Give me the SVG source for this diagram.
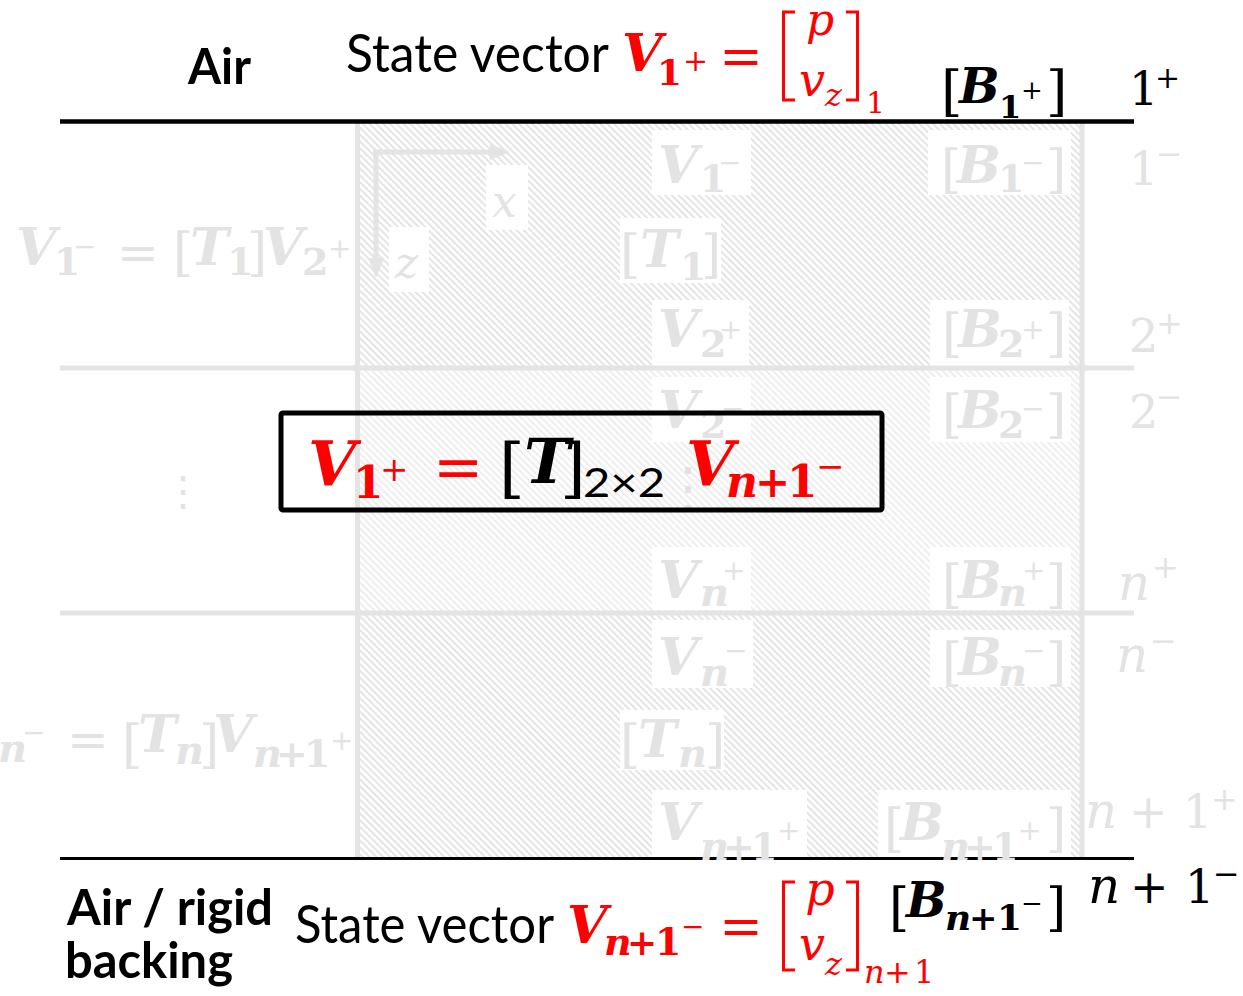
<svg xmlns="http://www.w3.org/2000/svg" width="1243" height="996" viewBox="0 0 1243 996">
<defs>
<pattern id="hatch" width="4.8" height="4.8" patternUnits="userSpaceOnUse" patternTransform="rotate(-45)">
<line x1="1" y1="0" x2="1" y2="4.8" stroke="#e4e4e4" stroke-width="2"/>
</pattern>
<marker id="ah" viewBox="0 0 10 8" refX="0" refY="4" markerWidth="4" markerHeight="3.2" orient="auto">
<path d="M0,0 L10,4 L0,8 z" fill="#e4e4e4"/>
</marker>
<style>
.m{font-family:"DejaVu Serif","Liberation Serif",serif}
.s{font-family:Lato,"Open Sans",sans-serif}
.g{fill:#e3e3e3}
.r{fill:#ff0000}
.k{fill:#000000}
.bi{font-style:italic;font-weight:bold}
.it{font-style:italic}
.bd{font-weight:bold}
.box{fill:#ffffff}
.gl{stroke:#e4e4e4;stroke-width:5;fill:none}
.br{fill:none;stroke:#ff0000;stroke-width:3}
</style>
</defs>
<rect width="1243" height="996" fill="#ffffff"/>

<g id="layers">
<rect x="360" y="123" width="720" height="243" fill="url(#hatch)"/>
<rect x="360" y="370" width="720" height="241" fill="url(#hatch)" opacity="0.65"/>
<rect x="360" y="615" width="720" height="242" fill="url(#hatch)"/>
</g>

<g id="label-boxes">
<rect class="box" x="652" y="130" width="99" height="65"/>
<rect class="box" x="928" y="130" width="143" height="65"/>
<rect class="box" x="620" y="218" width="101" height="65"/>
<rect class="box" x="652" y="300" width="97" height="66"/>
<rect class="box" x="930" y="300" width="139" height="66"/>
<rect class="box" x="486" y="165" width="42" height="65"/>
<rect class="box" x="389" y="227" width="40" height="65"/>
<rect class="box" x="652" y="377" width="99" height="65"/>
<rect class="box" x="930" y="377" width="141" height="65"/>
<rect class="box" x="652" y="547" width="99" height="63"/>
<rect class="box" x="930" y="547" width="141" height="63"/>
<rect class="box" x="652" y="620" width="101" height="68"/>
<rect class="box" x="930" y="630" width="141" height="57"/>
<rect class="box" x="620" y="710" width="104" height="60"/>
<rect class="box" x="652" y="790" width="155" height="67"/>
<rect class="box" x="878" y="790" width="193" height="67"/>
</g>

<g id="grid-lines">
<line class="gl" x1="60" y1="368" x2="1134" y2="368"/>
<line class="gl" x1="60" y1="613" x2="1134" y2="613"/>
<line class="gl" x1="357.5" y1="122" x2="357.5" y2="857"/>
<line class="gl" x1="1082" y1="122" x2="1082" y2="857"/>
<line x1="60" y1="121.5" x2="1134" y2="121.5" stroke="#000" stroke-width="4.5"/>
<line x1="60" y1="858.5" x2="1134" y2="858.5" stroke="#000" stroke-width="3"/>
</g>

<g id="axes">
<line class="gl" x1="376" y1="149.5" x2="376" y2="258" marker-end="url(#ah)"/>
<line class="gl" x1="373.5" y1="152" x2="490" y2="152" marker-end="url(#ah)"/>
<text class="m it g" x="492" y="217" font-size="44">x</text>
<text class="m it g" x="395" y="278" font-size="44">z</text>
</g>

<g id="top-labels">
<text class="s bd k" x="188" y="84" font-size="50" textLength="63" lengthAdjust="spacingAndGlyphs">Air</text>
<text class="s k" x="346" y="72" font-size="52" textLength="263" lengthAdjust="spacingAndGlyphs">State vector</text>
<text class="m r"><tspan class="bi" x="622" y="71" font-size="52">V</tspan><tspan class="bd" x="657" y="85" font-size="36">1</tspan><tspan x="683" y="71" font-size="30">+</tspan></text>
<text class="m r" x="741" y="74" font-size="52" text-anchor="middle">=</text>
<path class="br" d="M795,12 H783.5 V100 H795"/>
<path class="br" d="M846,12 H857.5 V100 H846"/>
<text class="m it r" x="820" y="35" font-size="44" text-anchor="middle">p</text>
<text class="m it r"><tspan x="799" y="96" font-size="46">v</tspan><tspan x="825" y="106" font-size="32">z</tspan></text>
<text class="m r" x="866" y="113" font-size="30">1</text>
<text class="m k"><tspan x="941" y="110" font-size="55">[</tspan><tspan class="bi" x="959" y="103" font-size="48">B</tspan><tspan class="bd" x="999" y="118" font-size="32">1</tspan><tspan x="1021" y="99" font-size="26">+</tspan><tspan x="1046" y="110" font-size="55">]</tspan></text>
<text class="m k"><tspan x="1129" y="105" font-size="46">1</tspan><tspan x="1155" y="88" font-size="30">+</tspan></text>
</g>

<g id="layer1-labels" class="m g">
<text><tspan class="bi" x="16" y="265" font-size="52">V</tspan><tspan class="bd" x="54" y="275" font-size="38">1</tspan><tspan x="73" y="256" font-size="28">−</tspan><tspan x="117" y="270" font-size="50">=</tspan><tspan x="173" y="270" font-size="52">[</tspan><tspan class="bi" x="190" y="265" font-size="52">T</tspan><tspan class="bd" x="227" y="275" font-size="38">1</tspan><tspan x="247" y="270" font-size="52">]</tspan><tspan class="bi" x="263" y="265" font-size="52">V</tspan><tspan class="bd" x="302" y="275" font-size="38">2</tspan><tspan x="328" y="258" font-size="28">+</tspan></text>
<text><tspan class="bi" x="658" y="183" font-size="52">V</tspan><tspan class="bd" x="700" y="192" font-size="38">1</tspan><tspan x="718" y="172" font-size="28">−</tspan></text>
<text><tspan x="941" y="187" font-size="52">[</tspan><tspan class="bi" x="957" y="183" font-size="52">B</tspan><tspan class="bd" x="998" y="192" font-size="38">1</tspan><tspan x="1021" y="172" font-size="28">−</tspan><tspan x="1046" y="187" font-size="52">]</tspan></text>
<text><tspan x="1129" y="185" font-size="46">1</tspan><tspan x="1156" y="165" font-size="32">−</tspan></text>
<text><tspan x="620" y="272" font-size="52">[</tspan><tspan class="bi" x="640" y="267" font-size="52">T</tspan><tspan class="bd" x="680" y="280" font-size="38">1</tspan><tspan x="701" y="272" font-size="52">]</tspan></text>
<text><tspan class="bi" x="658" y="347" font-size="52">V</tspan><tspan class="bd" x="700" y="357" font-size="38">2</tspan><tspan x="719" y="339" font-size="28">+</tspan></text>
<text><tspan x="942" y="351" font-size="52">[</tspan><tspan class="bi" x="958" y="347" font-size="52">B</tspan><tspan class="bd" x="998" y="357" font-size="38">2</tspan><tspan x="1021" y="339" font-size="28">+</tspan><tspan x="1046" y="351" font-size="52">]</tspan></text>
<text><tspan x="1129" y="352" font-size="46">2</tspan><tspan x="1156" y="334" font-size="32">+</tspan></text>
</g>

<g id="layer2-labels" class="m g">
<text><tspan class="bi" x="658" y="428" font-size="52">V</tspan><tspan class="bd" x="700" y="438" font-size="38">2</tspan><tspan x="721" y="418" font-size="28">−</tspan></text>
<text><tspan x="942" y="432" font-size="52">[</tspan><tspan class="bi" x="958" y="428" font-size="52">B</tspan><tspan class="bd" x="998" y="438" font-size="38">2</tspan><tspan x="1021" y="418" font-size="28">−</tspan><tspan x="1046" y="432" font-size="52">]</tspan></text>
<text><tspan x="1129" y="428" font-size="46">2</tspan><tspan x="1156" y="408" font-size="32">−</tspan></text>
<text x="183" y="505" font-size="40" text-anchor="middle" font-family="DejaVu Sans">⋮</text>
<text x="688" y="507" font-size="56" text-anchor="middle" font-family="DejaVu Sans">⋮</text>
<text><tspan class="bi" x="658" y="598" font-size="52">V</tspan><tspan class="bi" x="700" y="606" font-size="40">n</tspan><tspan x="722" y="580" font-size="28">+</tspan></text>
<text><tspan x="942" y="602" font-size="52">[</tspan><tspan class="bi" x="958" y="598" font-size="52">B</tspan><tspan class="bi" x="998" y="606" font-size="40">n</tspan><tspan x="1022" y="580" font-size="28">+</tspan><tspan x="1046" y="602" font-size="52">]</tspan></text>
<text><tspan class="it" x="1118" y="600" font-size="50">n</tspan><tspan x="1152" y="578" font-size="32">+</tspan></text>
</g>

<g id="layer3-labels" class="m g">
<text><tspan class="bi" x="-2" y="762" font-size="40">n</tspan><tspan x="22" y="742" font-size="28">−</tspan><tspan x="67" y="757" font-size="50">=</tspan><tspan x="122" y="762" font-size="52">[</tspan><tspan class="bi" x="138" y="752" font-size="52">T</tspan><tspan class="bi" x="175" y="764" font-size="40">n</tspan><tspan x="199" y="762" font-size="52">]</tspan><tspan class="bi" x="213" y="752" font-size="52">V</tspan><tspan class="bi" x="253" y="767" font-size="40">n</tspan><tspan class="bd" x="276" y="767" font-size="38">+</tspan><tspan class="bd" x="304" y="767" font-size="38">1</tspan><tspan x="330" y="750" font-size="28">+</tspan></text>
<text><tspan class="bi" x="658" y="675" font-size="52">V</tspan><tspan class="bi" x="700" y="686" font-size="40">n</tspan><tspan x="724" y="660" font-size="28">−</tspan></text>
<text><tspan x="942" y="680" font-size="52">[</tspan><tspan class="bi" x="958" y="675" font-size="52">B</tspan><tspan class="bi" x="998" y="686" font-size="40">n</tspan><tspan x="1022" y="660" font-size="28">−</tspan><tspan x="1046" y="680" font-size="52">]</tspan></text>
<text><tspan class="it" x="1116" y="672" font-size="50">n</tspan><tspan x="1150" y="652" font-size="32">−</tspan></text>
<text><tspan x="620" y="762" font-size="52">[</tspan><tspan class="bi" x="638" y="757" font-size="52">T</tspan><tspan class="bi" x="678" y="767" font-size="40">n</tspan><tspan x="705" y="762" font-size="52">]</tspan></text>
<text><tspan class="bi" x="658" y="840" font-size="52">V</tspan><tspan class="bi" x="700" y="860" font-size="40">n</tspan><tspan class="bd" x="723" y="860" font-size="38">+</tspan><tspan class="bd" x="751" y="860" font-size="38">1</tspan><tspan x="777" y="840" font-size="28">+</tspan></text>
<text><tspan x="884" y="846" font-size="52">[</tspan><tspan class="bi" x="900" y="840" font-size="52">B</tspan><tspan class="bi" x="941" y="860" font-size="40">n</tspan><tspan class="bd" x="964" y="860" font-size="38">+</tspan><tspan class="bd" x="992" y="860" font-size="38">1</tspan><tspan x="1018" y="840" font-size="28">+</tspan><tspan x="1046" y="846" font-size="52">]</tspan></text>
<text><tspan class="it" x="1085" y="828" font-size="50">n</tspan><tspan x="1129" y="828" font-size="46">+</tspan><tspan x="1183" y="828" font-size="46">1</tspan><tspan x="1211" y="810" font-size="32">+</tspan></text>
</g>

<g id="formula">
<rect x="281" y="413" width="601" height="97" rx="2" fill="none" stroke="#000" stroke-width="5"/>
<text class="m"><tspan class="bi r" x="308" y="485" font-size="62">V</tspan><tspan class="bd r" x="353" y="498" font-size="44">1</tspan><tspan class="r" x="380" y="481" font-size="34">+</tspan><tspan class="r" x="433" y="487" font-size="60">=</tspan><tspan class="k" x="499" y="490" font-size="66">[</tspan><tspan class="bi k" x="524" y="483" font-size="62">T</tspan><tspan class="k" x="560" y="490" font-size="66">]</tspan></text>
<text class="s k" x="583" y="497" font-size="40" textLength="82" lengthAdjust="spacingAndGlyphs">2×2</text>
<text class="m r"><tspan class="bi" x="686" y="485" font-size="62">V</tspan><tspan class="bi" x="726" y="497" font-size="44">n</tspan><tspan class="bd" x="755" y="497" font-size="42">+</tspan><tspan class="bd" x="787" y="497" font-size="44">1</tspan><tspan x="816" y="478" font-size="34">−</tspan></text>
</g>

<g id="bottom-labels">
<text class="s bd k" x="67" y="925" font-size="50" textLength="206" lengthAdjust="spacingAndGlyphs">Air / rigid</text>
<text class="s bd k" x="65" y="978" font-size="50" textLength="168" lengthAdjust="spacingAndGlyphs">backing</text>
<text class="s k" x="295" y="943" font-size="52" textLength="259" lengthAdjust="spacingAndGlyphs">State vector</text>
<text class="m r"><tspan class="bi" x="567" y="943" font-size="52">V</tspan><tspan class="bi" x="604" y="955" font-size="38">n</tspan><tspan class="bd" x="627" y="955" font-size="36">+</tspan><tspan class="bd" x="655" y="955" font-size="38">1</tspan><tspan x="681" y="936" font-size="28">−</tspan></text>
<text class="m r" x="741" y="944" font-size="52" text-anchor="middle">=</text>
<path class="br" d="M795,882 H783.5 V970 H795"/>
<path class="br" d="M846,882 H857.5 V970 H846"/>
<text class="m it r" x="820" y="905" font-size="46" text-anchor="middle">p</text>
<text class="m it r"><tspan x="799" y="960" font-size="46">v</tspan><tspan x="825" y="975" font-size="32">z</tspan></text>
<text class="m r"><tspan class="it" x="864" y="983" font-size="32">n</tspan><tspan x="884" y="983" font-size="32">+</tspan><tspan x="914" y="983" font-size="32">1</tspan></text>
<text class="m k"><tspan x="889" y="925" font-size="52">[</tspan><tspan class="bi" x="906" y="917" font-size="48">B</tspan><tspan class="bi" x="945" y="930" font-size="36">n</tspan><tspan class="bd" x="969" y="930" font-size="34">+</tspan><tspan class="bd" x="997" y="930" font-size="36">1</tspan><tspan x="1021" y="912" font-size="26">−</tspan><tspan x="1046" y="925" font-size="52">]</tspan></text>
<text class="m k"><tspan class="it" x="1088" y="903" font-size="50">n</tspan><tspan x="1130" y="903" font-size="46">+</tspan><tspan x="1185" y="903" font-size="46">1</tspan><tspan x="1213" y="885" font-size="32">−</tspan></text>
</g>
</svg>
